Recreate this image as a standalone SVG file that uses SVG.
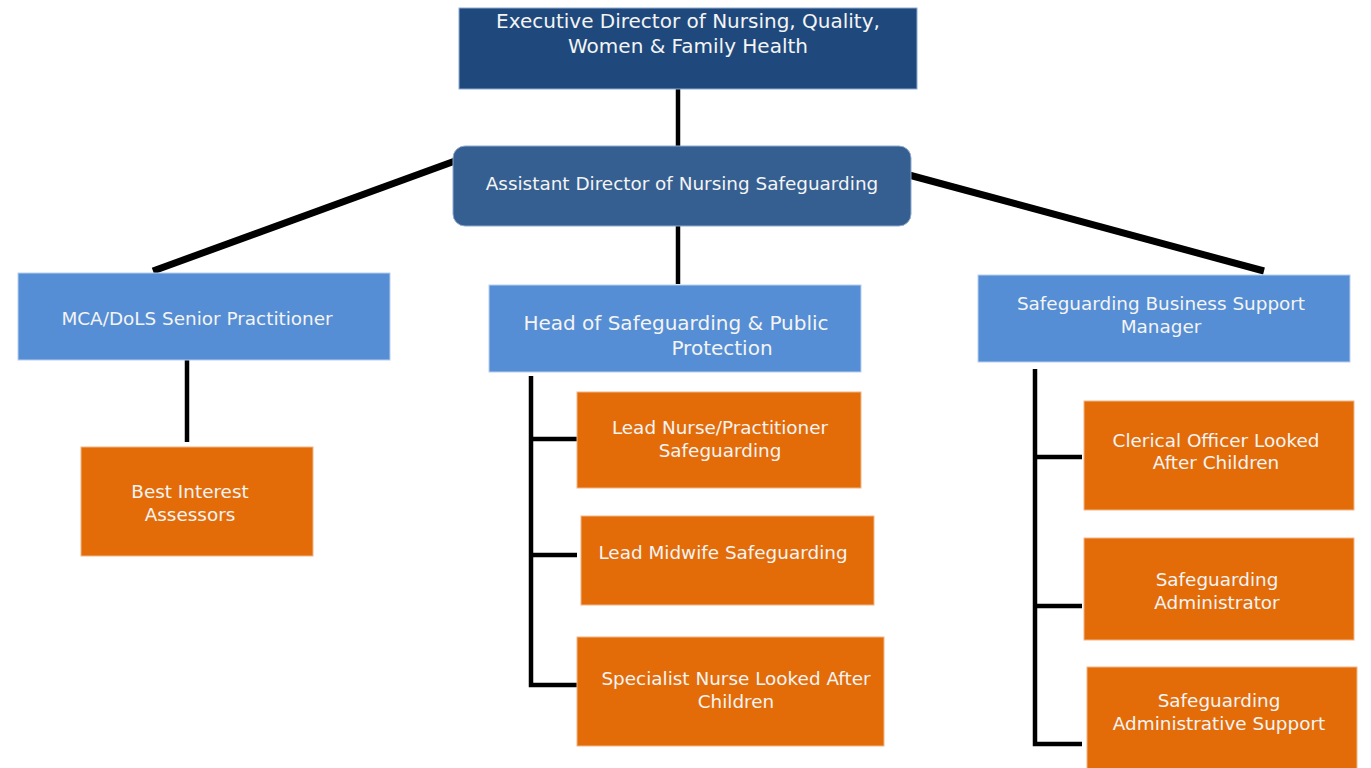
<svg xmlns="http://www.w3.org/2000/svg" width="1371" height="768" viewBox="0 0 1371 768">
<style>
text{font-family:"DejaVu Sans",Verdana,sans-serif;font-size:18.4px;fill:#f4f4f4;text-anchor:middle}
.big{font-size:20px}
.dk{fill:#1F497D;stroke:#8eaad0;stroke-width:1}
.md{fill:#365F91;stroke:#8eaad0;stroke-width:1}
.lb{fill:#558ED5;stroke:#b9cfee;stroke-width:1}
.or{fill:#E36C09;stroke:#f3b486;stroke-width:1}
.c{stroke:#000;fill:none;stroke-width:4.5}
.d{stroke:#000;fill:none;stroke-width:7}
</style>
<rect width="1371" height="768" fill="#fff"/>
<g id="connectors">
<line class="c" x1="678" y1="89" x2="678" y2="147"/>
<line class="c" x1="678" y1="226" x2="678" y2="284"/>
<line class="d" x1="455" y1="161" x2="153" y2="271"/>
<line class="d" x1="909" y1="175" x2="1264" y2="271"/>
<line class="c" x1="187" y1="357" x2="187" y2="442"/>
<polyline class="c" points="531,376 531,685 578,685"/>
<line class="c" x1="531" y1="439" x2="577" y2="439"/>
<line class="c" x1="531" y1="555" x2="577" y2="555"/>
<polyline class="c" points="1035,369 1035,744 1082,744"/>
<line class="c" x1="1035" y1="457" x2="1082" y2="457"/>
<line class="c" x1="1035" y1="606" x2="1082" y2="606"/>
</g>
<g id="exec"><rect class="dk" x="459" y="8" width="458" height="81"/><text class="big" x="688" y="28">Executive Director of Nursing, Quality,</text><text class="big" x="688" y="53">Women &amp; Family Health</text></g>
<g id="assistant"><rect class="md" x="453" y="146" width="458" height="80" rx="12"/><text x="682" y="190">Assistant Director of Nursing Safeguarding</text></g>
<g id="mca"><rect class="lb" x="18" y="273" width="372" height="87"/><text x="197" y="325">MCA/DoLS Senior Practitioner</text></g>
<g id="bia"><rect class="or" x="81" y="447" width="232" height="109"/><text x="190" y="498">Best Interest</text><text x="190" y="521">Assessors</text></g>
<g id="head"><rect class="lb" x="489" y="285" width="372" height="87"/><text class="big" x="676" y="330">Head of Safeguarding &amp; Public</text><text class="big" x="722" y="355">Protection</text></g>
<g id="leadnurse"><rect class="or" x="577" y="392" width="284" height="96"/><text x="720" y="434">Lead Nurse/Practitioner</text><text x="720" y="457">Safeguarding</text></g>
<g id="midwife"><rect class="or" x="581" y="516" width="293" height="89"/><text x="723" y="559">Lead Midwife Safeguarding</text></g>
<g id="specialist"><rect class="or" x="577" y="637" width="307" height="109"/><text x="736" y="685">Specialist Nurse Looked After</text><text x="736" y="708">Children</text></g>
<g id="sbsm"><rect class="lb" x="978" y="275" width="372" height="87"/><text x="1161" y="310">Safeguarding Business Support</text><text x="1161" y="333">Manager</text></g>
<g id="clerical"><rect class="or" x="1084" y="401" width="270" height="109"/><text x="1216" y="447">Clerical Officer Looked</text><text x="1216" y="469">After Children</text></g>
<g id="admin"><rect class="or" x="1084" y="538" width="270" height="102"/><text x="1217" y="586">Safeguarding</text><text x="1217" y="609">Administrator</text></g>
<g id="adminsupport"><rect class="or" x="1087" y="667" width="270" height="110"/><text x="1219" y="707">Safeguarding</text><text x="1219" y="730">Administrative Support</text></g>
</svg>
